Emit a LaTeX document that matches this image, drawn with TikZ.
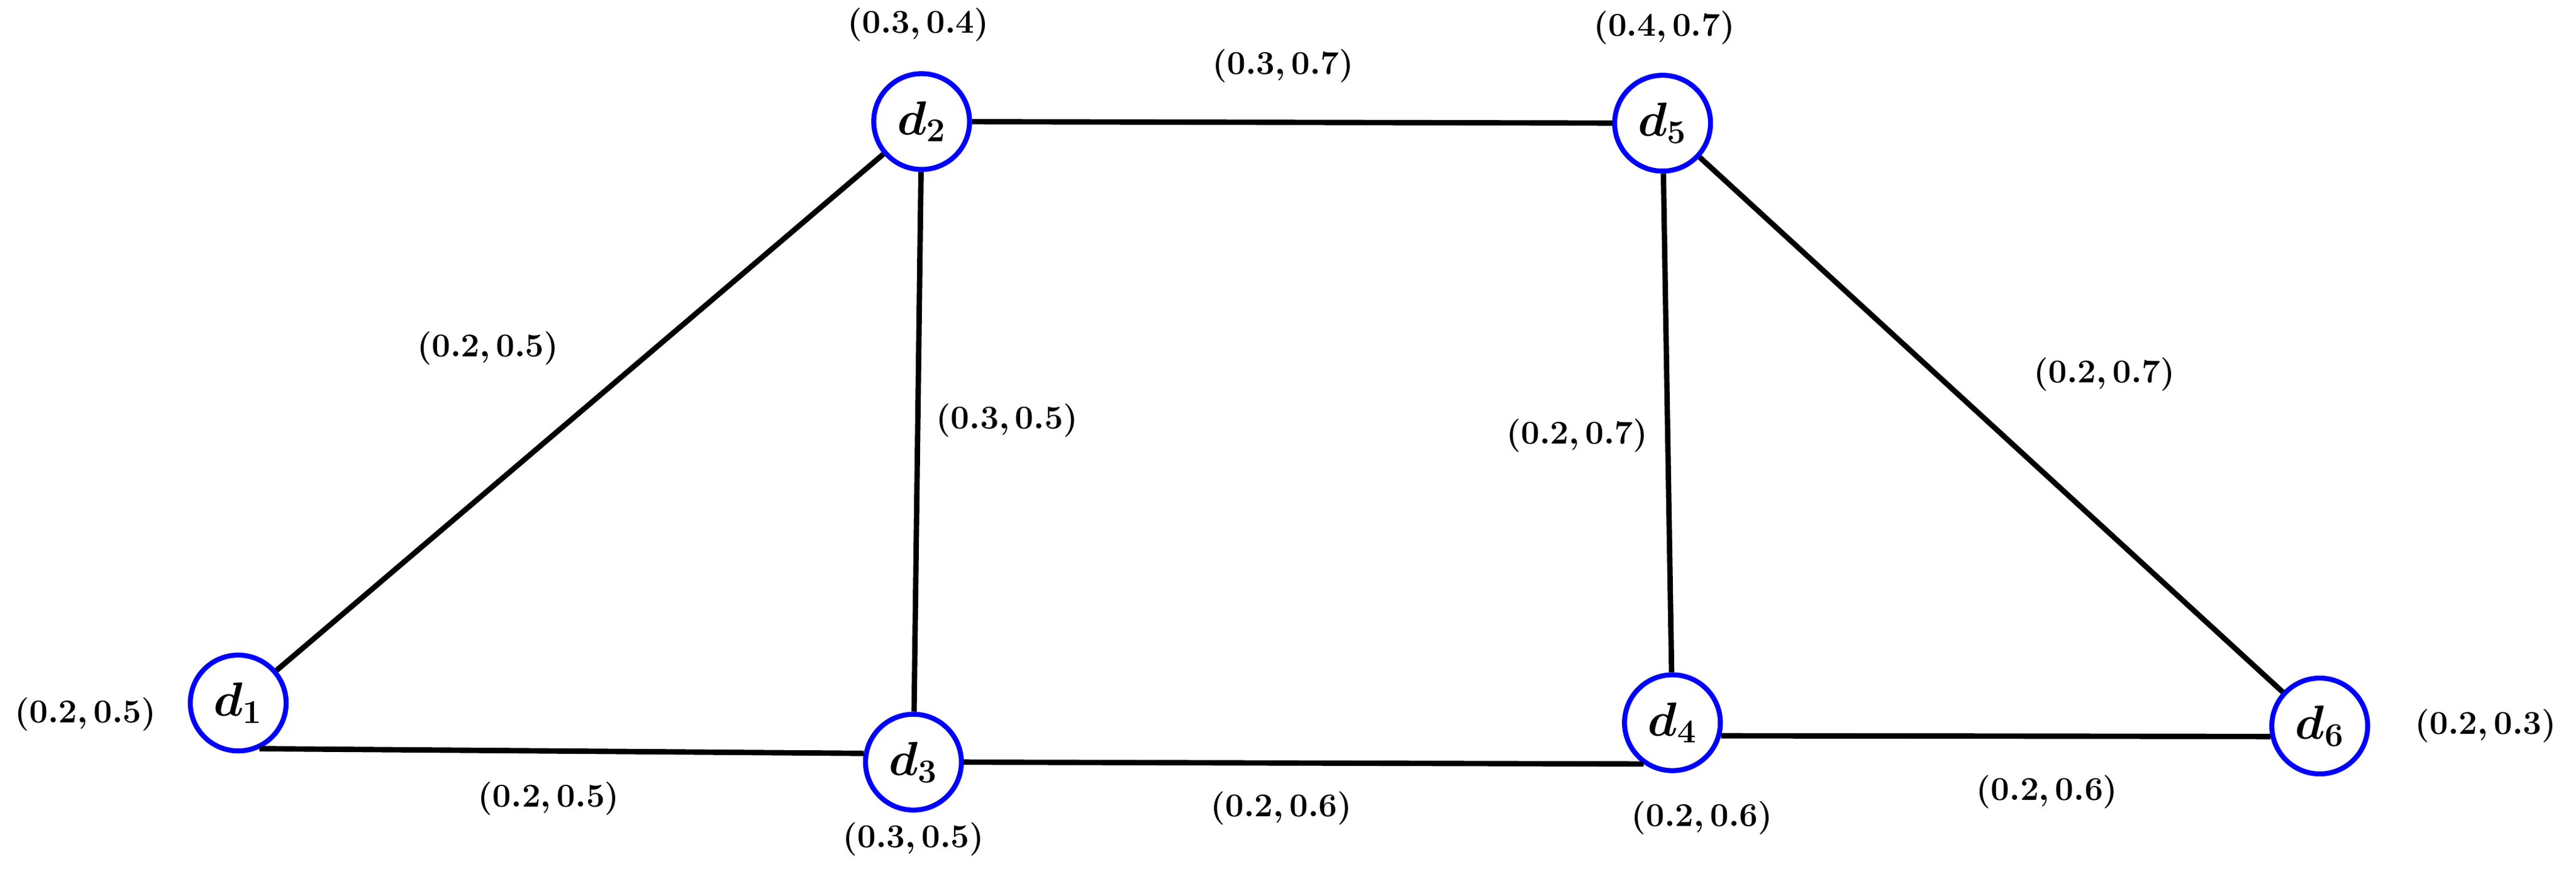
\documentclass[tikz,border=0pt]{standalone}
\usepackage{amsmath,bm}
\begin{document}
\begin{tikzpicture}[x=0.03cm,y=-0.03cm,
  vtx/.style={circle,draw=blue,line width=2.6pt,fill=white,minimum size=1.75cm,inner sep=0pt,font=\fontsize{23}{27}\selectfont},
  lbl/.style={font=\fontsize{18}{21}\selectfont},
  edge/.style={line width=2.8pt}]
\useasboundingbox (0,0) rectangle (1568,529);
\node[vtx] (d1) at (145,428) {$\bm{d_1}$};
\node[vtx] (d2) at (561,74) {$\bm{d_2}$};
\node[vtx] (d3) at (556,464) {$\bm{d_3}$};
\node[vtx] (d4) at (1018,440) {$\bm{d_4}$};
\node[vtx] (d5) at (1012,75) {$\bm{d_5}$};
\node[vtx] (d6) at (1412,442) {$\bm{d_6}$};
\draw[edge] (d1)--(d2);
\draw[edge] (d1.-65)--(d3.170);
\draw[edge] (d2)--(d3);
\draw[edge] (d2)--(d5);
\draw[edge] (d3.east)--(d4.-125);
\draw[edge] (d4.-15)--(d6.192);
\draw[edge] (d4)--(d5);
\draw[edge] (d5)--(d6);
\node[lbl] (l2) at (559,15) {$\bm{(0.3,0.4)}$};
\node[lbl] (l25) at (781,40) {$\bm{(0.3,0.7)}$};
\node[lbl] (l5) at (1013,17) {$\bm{(0.4,0.7)}$};
\node[lbl] (l12) at (297,212) {$\bm{(0.2,0.5)}$};
\node[lbl] (l23) at (613,256) {$\bm{(0.3,0.5)}$};
\node[lbl] (l45) at (960,265) {$\bm{(0.2,0.7)}$};
\node[lbl] (l56) at (1281,228) {$\bm{(0.2,0.7)}$};
\node[lbl] (l1) at (52,435) {$\bm{(0.2,0.5)}$};
\node[lbl] (l13) at (334,486) {$\bm{(0.2,0.5)}$};
\node[lbl] (l3) at (556,511) {$\bm{(0.3,0.5)}$};
\node[lbl] (l34) at (780,492) {$\bm{(0.2,0.6)}$};
\node[lbl] (l4) at (1036,498) {$\bm{(0.2,0.6)}$};
\node[lbl] (l46) at (1246,482) {$\bm{(0.2,0.6)}$};
\node[lbl] (l6) at (1513,442) {$\bm{(0.2,0.3)}$};
\end{tikzpicture}
\end{document}
